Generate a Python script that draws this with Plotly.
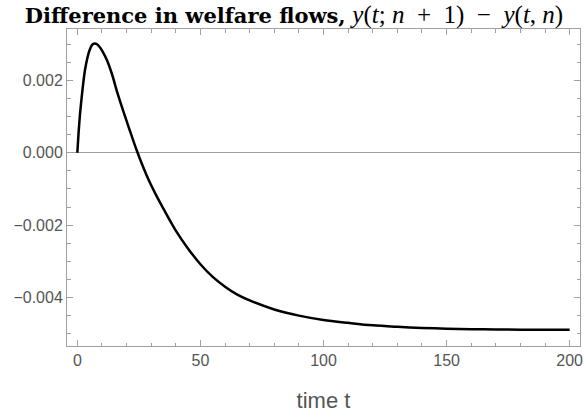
import plotly.graph_objects as go

# time values and welfare-flow difference (units of 1e-3)
t_vals = [0, 0.5, 1, 1.5, 2, 2.5, 3, 3.5, 4, 5, 6, 7, 8, 9, 10, 12, 14, 16, 18, 20, 22, 24, 26, 28, 30, 32,
          35, 40, 45, 50, 55, 60, 65, 70, 80, 90, 100, 110, 120, 130, 140, 150, 160, 170, 180, 190, 200]
y_milli = [0, 0.55, 1.0, 1.36, 1.68, 1.98, 2.24, 2.43, 2.6, 2.84, 2.98, 3.02, 3.0, 2.93, 2.83, 2.56, 2.19,
           1.72, 1.29, 0.88, 0.48, 0.09, -0.27, -0.6, -0.9, -1.17,
           -1.55, -2.15, -2.65, -3.08, -3.43, -3.70, -3.92, -4.08, -4.33, -4.50, -4.62, -4.70, -4.77, -4.81,
           -4.84, -4.86, -4.875, -4.883, -4.888, -4.89, -4.892]
y_vals = [v * 1e-3 for v in y_milli]

x_ticks = [0, 50, 100, 150, 200]
y_ticks = [-0.004, -0.002, 0.0, 0.002]
y_tick_text = ["\u22120.004", "\u22120.002", "0.000", "0.002"]

title_text = ("<b>Difference in welfare flows,</b> "
              "<span style=\"font-family:'Liberation Serif', serif; font-size:25px\">"
              "<i>y</i>(<i>t</i>; <i>n</i>  +  1)  \u2212  <i>y</i>(<i>t</i>, <i>n</i>)</span>")

fig = go.Figure()
fig.add_trace(go.Scatter(x=t_vals, y=y_vals, mode="lines",
                         line=dict(color="black", width=2.5, shape="spline", smoothing=0.9),
                         hoverinfo="skip"))

axis_common = dict(
    showline=True, linecolor="#a0a0a0", linewidth=1, mirror="allticks",
    ticks="inside", ticklen=6, tickcolor="#a0a0a0", tickwidth=1,
    showgrid=False, tickfont=dict(family="Liberation Sans, Arial", size=16, color="#555555"),
)

fig.update_layout(
    width=588, height=417,
    margin=dict(l=67, r=5, t=29, b=71),
    paper_bgcolor="white", plot_bgcolor="white",
    showlegend=False,
    title=dict(text=title_text, x=0.5, xanchor="center", y=0.962, yanchor="middle",
               font=dict(family="DejaVu Serif, serif", size=21, color="black")),
    xaxis=dict(range=[-4.2, 204.2], tickvals=x_ticks, zeroline=False,
               minor=dict(dtick=10, tick0=0, ticks="inside", ticklen=3.5, tickcolor="#a0a0a0", showgrid=False),
               title=dict(text="time t", font=dict(family="Liberation Sans, Arial", size=22, color="#555555"), standoff=24),
               **axis_common),
    yaxis=dict(range=[-0.00534, 0.00342], tickvals=y_ticks, ticktext=y_tick_text,
               zeroline=True, zerolinecolor="#a0a0a0", zerolinewidth=1.2,
               minor=dict(dtick=0.0005, tick0=0, ticks="inside", ticklen=3.5, tickcolor="#a0a0a0", showgrid=False),
               **axis_common),
)

fig.write_html("out.html")
